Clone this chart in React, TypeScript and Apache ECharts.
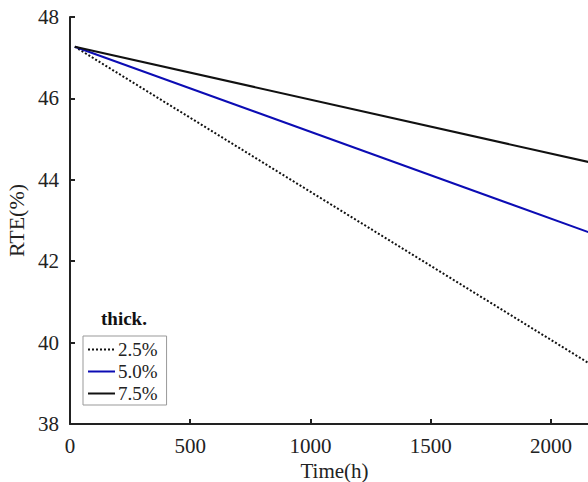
import React, { useEffect, useRef } from "react";
import * as echarts from "echarts";

const seriesNames = ["2.5%", "5.0%", "7.5%"];
const timeH = [20, 2200];
const rte25 = [47.27, 39.34];
const rte50 = [47.27, 42.62];
const rte75 = [47.27, 44.38];
const xTicks = [0, 500, 1000, 1500, 2000];
const yTicks = [38, 40, 42, 44, 46, 48];

const FONT = "Liberation Serif";

export default function App() {
  const ref = useRef<HTMLDivElement>(null);
  useEffect(() => {
    if (!ref.current) return;
    const chart = echarts.init(ref.current, undefined, { renderer: "svg" });
    const mk = (vals: number[]) => timeH.map((t, i) => [t, vals[i]]);
    chart.setOption({
      animation: false,
      backgroundColor: "#ffffff",
      grid: { left: 70, top: 17, bottom: 58, right: -11, outerBoundsMode: "none", containLabel: false },
      xAxis: {
        type: "value",
        min: 0,
        max: 2200,
        interval: 500,
        name: "Time(h)",
        nameLocation: "middle",
        nameGap: 29,
        nameTextStyle: { fontFamily: FONT, fontSize: 21, color: "#222" },
        axisLine: { show: true, lineStyle: { color: "#222", width: 2 } },
        axisTick: { show: true, inside: true, length: 5, lineStyle: { color: "#222", width: 2 } },
        axisLabel: {
          fontFamily: FONT,
          fontSize: 21,
          color: "#222",
          margin: 11,
          formatter: (v: number) => (xTicks.includes(v) ? String(v) : ""),
        },
        splitLine: { show: false },
      },
      yAxis: {
        type: "value",
        min: 38,
        max: 48,
        interval: 2,
        name: "RTE(%)",
        nameLocation: "middle",
        nameGap: 42,
        nameTextStyle: { fontFamily: FONT, fontSize: 22, color: "#222" },
        axisLine: { show: true, lineStyle: { color: "#222", width: 2 } },
        axisTick: { show: true, inside: true, length: 5, lineStyle: { color: "#222", width: 2 } },
        axisLabel: {
          fontFamily: FONT,
          fontSize: 21,
          color: "#222",
          margin: 11,
          formatter: (v: number) => (yTicks.includes(v) ? String(v) : ""),
        },
        splitLine: { show: false },
      },
      legend: {
        left: 83,
        top: 336,
        orient: "vertical",
        data: seriesNames,
        itemWidth: 27,
        itemHeight: 12,
        itemGap: 3,
        padding: [4, 9, 2, 4],
        borderColor: "#999",
        borderWidth: 1,
        itemStyle: { opacity: 0 },
        textStyle: { fontFamily: FONT, fontSize: 19, color: "#222", padding: [0, 0, 0, -2] },
      },
      graphic: [
        {
          type: "text",
          left: 101,
          top: 309,
          style: { text: "thick.", font: `bold 19px "${FONT}"`, fill: "#111" },
        },
      ],
      series: [
        {
          name: seriesNames[0],
          type: "line",
          data: mk(rte25),
          symbol: "none",
          lineStyle: { color: "#111", width: 2, type: [2, 2] },
          itemStyle: { color: "#111" },
        },
        {
          name: seriesNames[1],
          type: "line",
          data: mk(rte50),
          symbol: "none",
          lineStyle: { color: "#0c0cb4", width: 2 },
          itemStyle: { color: "#0c0cb4" },
        },
        {
          name: seriesNames[2],
          type: "line",
          data: mk(rte75),
          symbol: "none",
          lineStyle: { color: "#111", width: 2 },
          itemStyle: { color: "#111" },
        },
      ],
    });
    return () => chart.dispose();
  }, []);
  return (
    <div
      ref={ref}
      style={{ position: "fixed", left: 0, top: 0, width: 588, height: 482 }}
    />
  );
}
